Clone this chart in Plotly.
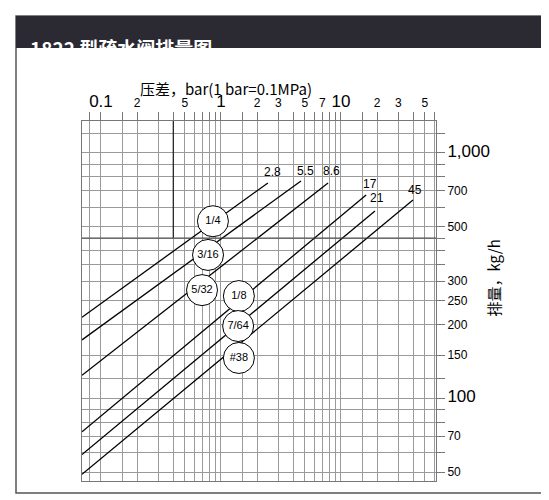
import numpy as np
import plotly.graph_objects as go

# Data
line_labels = ["2.8", "5.5", "8.6", "17", "21", "45"]
line_x0 = [0.0695, 0.0695, 0.0695, 0.0695, 0.0695, 0.0695]
line_y0 = [214, 173, 124, 73, 59, 49]
line_x1 = [2.46, 4.64, 7.8, 16.2, 19.2, 39.8]
line_y1 = [755, 769, 755, 674, 580, 643]
label_x = [2.7, 5.1, 8.4, 17.5, 19.8, 41]
label_y = [835, 845, 845, 750, 655, 705]

orifice_labels = ["1/4", "3/16", "5/32", "1/8", "7/64", "#38"]
orifice_x = [0.857, 0.78, 0.695, 1.41, 1.39, 1.41]
orifice_y = [527, 384, 276, 261, 197, 146]

x_grid = [v * d for d in (0.1, 1, 10) for v in range(1, 10)] + [0.15, 1.5, 15, 0.08]
x_labels = {0.1: "0.1", 0.2: "2", 0.3: "3", 0.5: "5", 0.7: "7", 1: "1", 2: "2", 3: "3",
            5: "5", 7: "7", 10: "10", 20: "2", 30: "3", 50: "5"}
y_grid = [50, 60, 70, 80, 90, 100, 120, 150, 200, 250, 300, 350, 400, 450, 500, 600,
          700, 800, 900, 1000, 1200]
y_labels = {50: "50", 70: "70", 100: "100", 150: "150", 200: "200", 250: "250",
            300: "300", 500: "500", 700: "700", 1000: "1,000"}

big = {0.1, 1, 10, 100, 1000}


def tick_text(v, lab):
    if lab is None:
        return ""
    size = 17 if v in big else 12
    return f"<span style='font-size:{size}px'>{lab}</span>"


fig = go.Figure()

for i, lab in enumerate(line_labels):
    fig.add_trace(go.Scatter(x=[line_x0[i], line_x1[i]], y=[line_y0[i], line_y1[i]],
                             mode="lines", line=dict(color="black", width=1.3),
                             showlegend=False, hoverinfo="skip"))
    fig.add_annotation(x=np.log10(label_x[i]), y=np.log10(label_y[i]), text=lab,
                       showarrow=False, font=dict(size=12, color="black"))

# dark reference lines
fig.add_trace(go.Scatter(x=[0.4, 0.4], y=[450, 1400], mode="lines",
                         line=dict(color="black", width=1), showlegend=False))
fig.add_trace(go.Scatter(x=[0.06, 70], y=[450, 450], mode="lines",
                         line=dict(color="#444", width=1), showlegend=False))

fig.add_trace(go.Scatter(x=orifice_x, y=orifice_y, mode="markers+text", text=orifice_labels,
                         textfont=dict(size=11, color="black"),
                         marker=dict(size=31, color="white", line=dict(color="black", width=1)),
                         showlegend=False, hoverinfo="skip"))

xs = sorted(x_grid)
ys = sorted(y_grid)
fig.update_xaxes(type="log", range=[np.log10(0.0695), np.log10(61.9)], side="top",
                 tickvals=xs, ticktext=[tick_text(v, x_labels.get(v)) for v in xs],
                 showgrid=True, gridcolor="#9a9a9a", gridwidth=0.8,
                 ticks="outside", ticklen=8, tickcolor="#777", automargin=False,
                 showline=True, linecolor="#777", mirror=True,
                 tickfont=dict(color="black", family="Liberation Sans"), zeroline=False)
fig.update_yaxes(type="log", range=[np.log10(46), np.log10(1350)], side="right",
                 tickvals=ys, ticktext=[tick_text(v, y_labels.get(v)) for v in ys],
                 showgrid=True, gridcolor="#9a9a9a", gridwidth=0.8,
                 ticks="outside", ticklen=8, tickcolor="#777", automargin=False,
                 showline=True, linecolor="#777", mirror=True,
                 tickfont=dict(color="black", family="Liberation Sans"), zeroline=False)

l, r, t, b = 74, 121, 113, 27
pw, ph = 549 - l - r, 500 - t - b


def px(x):
    return (x - l) / pw


def py(y):
    return (500 - b - y) / ph


fig.add_shape(type="rect", xref="paper", yref="paper", x0=px(8), x1=px(540), y0=py(485),
              y1=py(8), line=dict(color="#555", width=1.5), layer="below")
fig.add_shape(type="rect", xref="paper", yref="paper", x0=px(8), x1=px(540), y0=py(40),
              y1=py(8), fillcolor="#2b2a33", line=dict(width=0))
fig.add_annotation(xref="paper", yref="paper", x=px(20), y=py(24), xanchor="left",
                   text="<b>1822 型疏水阀排量图</b>", showarrow=False,
                   font=dict(size=19, color="white", family="Noto Sans CJK SC"))
fig.add_annotation(xref="paper", yref="paper", x=px(218), y=py(68),
                   text="压差，bar(1 bar=0.1MPa)", showarrow=False,
                   font=dict(size=15, color="black", family="Noto Sans CJK SC"))
fig.add_annotation(xref="paper", yref="paper", x=px(497), y=py(270), textangle=-90,
                   text="排量，kg/h", showarrow=False,
                   font=dict(size=15, color="black", family="Noto Sans CJK SC"))

fig.update_layout(width=549, height=500, margin=dict(l=l, r=r, t=t, b=b, autoexpand=False),
                  plot_bgcolor="white", paper_bgcolor="white",
                  font=dict(family="Liberation Sans"))

fig.write_html("out.html")
